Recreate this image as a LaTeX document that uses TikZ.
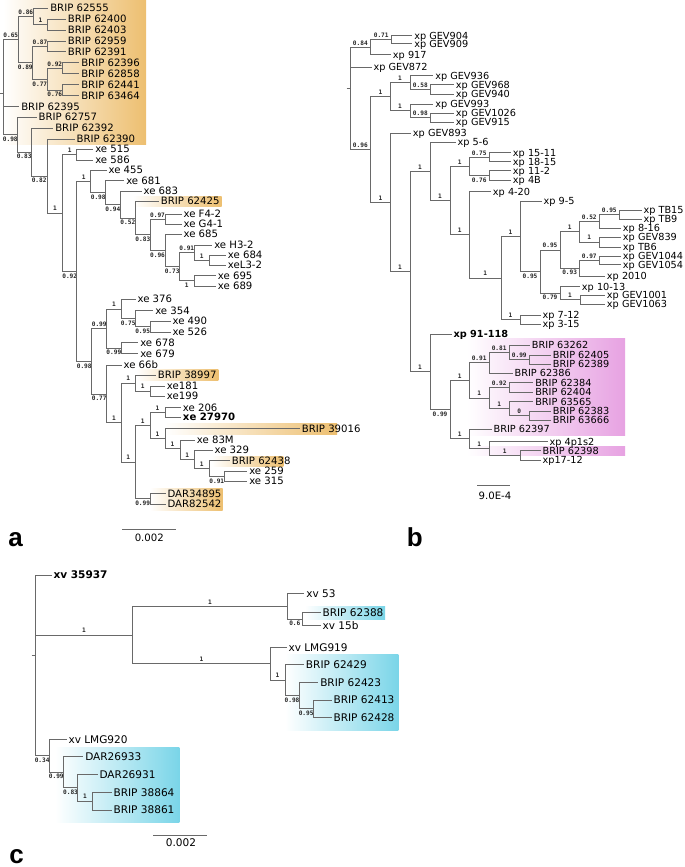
\documentclass[tikz,border=0pt]{standalone}
\usepackage{fontspec}
\setmainfont{DejaVu Sans}
\newfontfamily\supfam{DejaVu Sans Mono}
\newfontfamily\panfam{Liberation Sans}
\definecolor{orA}{RGB}{237,191,112}
\definecolor{piB}{RGB}{231,162,226}
\definecolor{cyC}{RGB}{122,213,232}
\definecolor{lineC}{RGB}{105,105,105}
\tikzset{
 branch/.style={draw=lineC, line width=0.75pt},
 leafA/.style={font=\fontsize{7.6}{8}\selectfont, anchor=west, inner sep=1.2pt, text height=5.5pt, text depth=0pt},
 leafB/.style={leafA, font=\fontsize{7.3}{8}\selectfont, text height=5.3pt},
 leafC/.style={leafA, font=\fontsize{7.9}{9}\selectfont, text height=5.8pt},
 supbase/.style={pos=0.75, inner sep=0pt, font=\supfam\bfseries\fontsize{4.6}{5}\selectfont, text=black!85},
 supA/.style={supbase, yshift=3.3pt},
 supB/.style={supbase, yshift=-3.4pt},
 panlab/.style={font=\panfam\bfseries\fontsize{19.5}{20}\selectfont, anchor=base west, inner sep=0pt},
 scaletxt/.style={font=\fontsize{7.6}{8}\selectfont, inner sep=0pt, text height=5.5pt, text depth=0pt},
}
\begin{document}
\begin{tikzpicture}[x=0.75pt,y=-0.75pt]
\useasboundingbox (0,0) rectangle (685,867);
% ---------------- highlight boxes ----------------
\shade[left color=white,right color=orA] (3,0) rectangle (146,144);
\shade[left color=white,right color=orA] (133,196) rectangle (221.7,206.3);
\shade[left color=white,right color=orA] (136,369.3) rectangle (218.3,380.7);
\shade[left color=white,right color=orA] (165,423.3) rectangle (337,434);
\shade[left color=white,right color=orA] (211.7,456) rectangle (283.3,466);
\shade[left color=white,right color=orA] (150,488.3) rectangle (222.7,510.7);
\shade[left color=white,right color=piB] (466.7,338.3) rectangle (625,435);
\shade[left color=white,right color=piB] (466.7,446) rectangle (625,455.7);
\shade[left color=white,right color=cyC] (305,606.7) rectangle (385,619.3);
\shade[left color=white,right color=cyC] (285,654.3) rectangle (398.3,730);
\shade[left color=white,right color=cyC] (55,747.3) rectangle (179.3,822.3);

% ================= PANEL A =================
\node[leafA] (l1) at (48.4,8.3) {BRIP 62555};
\node[leafA] (l2) at (66.1,19.3) {BRIP 62400};
\node[leafA] (l3) at (66.1,30.3) {BRIP 62403};
\node[leafA] (l4) at (66.1,41.3) {BRIP 62959};
\node[leafA] (l5) at (66.1,52) {BRIP 62391};
\node[leafA] (l6) at (79.4,63) {BRIP 62396};
\node[leafA] (l7) at (79.4,74) {BRIP 62858};
\node[leafA] (l8) at (79.4,84.7) {BRIP 62441};
\node[leafA] (l9) at (79.4,95.7) {BRIP 63464};
\node[leafA] (l10) at (19.4,106.7) {BRIP 62395};
\node[leafA] (l11) at (36.7,117.3) {BRIP 62757};
\node[leafA] (l12) at (53.4,128.3) {BRIP 62392};
\node[leafA] (l13) at (74.7,139) {BRIP 62390};
\node[leafA] (l14) at (93.4,149.3) {xe 515};
\node[leafA] (l15) at (93.4,160.3) {xe 586};
\node[leafA] (l16) at (106.7,170.3) {xe 455};
\node[leafA] (l17) at (124.4,180.7) {xe 681};
\node[leafA] (l18) at (141.7,191) {xe 683};
\node[leafA] (l19) at (159.1,201) {BRIP 62425};
\node[leafA] (l20) at (181.7,214.3) {xe F4-2};
\node[leafA] (l21) at (181.7,224.3) {xe G4-1};
\node[leafA] (l22) at (181.7,234.3) {xe 685};
\node[leafA] (l23) at (212.4,245) {xe H3-2};
\node[leafA] (l24) at (226.1,255.3) {xe 684};
\node[leafA] (l25) at (226.1,265.3) {xeL3-2};
\node[leafA] (l26) at (216.1,275.7) {xe 695};
\node[leafA] (l27) at (216.1,286) {xe 689};
\node[leafA] (l28) at (135.7,299.3) {xe 376};
\node[leafA] (l29) at (153.4,310.7) {xe 354};
\node[leafA] (l30) at (170.7,321.3) {xe 490};
\node[leafA] (l31) at (170.7,332.3) {xe 526};
\node[leafA] (l32) at (138.4,342.7) {xe 678};
\node[leafA] (l33) at (138.4,353.7) {xe 679};
\node[leafA] (l34) at (121.7,365.3) {xe 66b};
\node[leafA] (l35) at (156.1,375) {BRIP 38997};
\node[leafA] (l36) at (165.1,386) {xe181};
\node[leafA] (l37) at (165.1,396) {xe199};
\node[leafA] (l38) at (181.1,407.7) {xe 206};
\node[leafA, font=\fontsize{7.6}{8}\selectfont\bfseries] (l39) at (181.1,417.3) {xe 27970};
\node[leafA] (l40) at (300.1,428.7) {BRIP 39016};
\node[leafA] (l41) at (195.1,440) {xe 83M};
\node[leafA] (l42) at (212.7,450.3) {xe 329};
\node[leafA] (l43) at (230.1,460.7) {BRIP 62438};
\node[leafA] (l44) at (247.4,471.3) {xe 259};
\node[leafA] (l45) at (247.4,481.3) {xe 315};
\node[leafA] (l46) at (165.7,493.7) {DAR34895};
\node[leafA] (l47) at (165.7,504) {DAR82542};

\coordinate (aS) at (0,93.75);
\coordinate (aR) at (3.3,93.75);
\coordinate (a065) at (18.3,39.8);
\coordinate (a086) at (33.3,16.6);
\coordinate (a1a) at (47.7,24.8);
\coordinate (a089) at (32.3,63);
\coordinate (a087) at (47.7,46.7);
\coordinate (a077) at (47.3,79.35);
\coordinate (a092) at (62.3,68.5);
\coordinate (a076) at (62.3,90.2);
\coordinate (a098) at (17.3,134.75);
\coordinate (a083) at (31,152.2);
\coordinate (a082) at (47.3,176.05);
\coordinate (a1b) at (62.7,213.1);
\coordinate (a1c) at (76.7,154.8);
\coordinate (a092b) at (76.7,271.4);
\coordinate (a1d) at (90.7,181.5);
\coordinate (a098c) at (105.7,192.6);
\coordinate (a094) at (120,204.5);
\coordinate (a052) at (135.7,218);
\coordinate (a083b) at (150,234.9);
\coordinate (a097) at (165,219.3);
\coordinate (a096) at (165,250.5);
\coordinate (a073) at (179.3,266.8);
\coordinate (a091) at (194.3,252.7);
\coordinate (a1f) at (209.3,260.3);
\coordinate (a1e) at (194.3,280.8);
\coordinate (a098d) at (91.7,361.3);
\coordinate (a099a) at (106.7,328.6);
\coordinate (a1g) at (121,309);
\coordinate (a075) at (135.3,318.8);
\coordinate (a095) at (150,326.8);
\coordinate (a099b) at (121,348.2);
\coordinate (a077b) at (106.7,394);
\coordinate (a1h) at (121,422.6);
\coordinate (a1i) at (135.3,383);
\coordinate (a1k) at (150,391);
\coordinate (a1j) at (135.3,462.1);
\coordinate (a1n) at (150,425.4);
\coordinate (a1m) at (165,412.5);
\coordinate (a1o) at (165,438.5);
\coordinate (a1p) at (180,448.3);
\coordinate (a1q) at (194.3,459.8);
\coordinate (a1r) at (209.3,468.5);
\coordinate (a091b) at (224.3,476.3);
\coordinate (aDAR) at (150,498.8);

\draw[branch] (aS) -- (aR);
\draw[branch] (aR) |- (a065) node[supA]{0.65};
\draw[branch] (aR) |- (l10.west);
\draw[branch] (aR) |- (a098) node[supB]{0.98};
\draw[branch] (a065) |- (a086) node[supA]{0.86};
\draw[branch] (a065) |- (a089) node[supB]{0.89};
\draw[branch] (a086) |- (l1.west);
\draw[branch] (a086) |- (a1a) node[supA]{1};
\draw[branch] (a1a) |- (l2.west);
\draw[branch] (a1a) |- (l3.west);
\draw[branch] (a089) |- (a087) node[supA]{0.87};
\draw[branch] (a089) |- (a077) node[supB]{0.77};
\draw[branch] (a087) |- (l4.west);
\draw[branch] (a087) |- (l5.west);
\draw[branch] (a077) |- (a092) node[supA]{0.92};
\draw[branch] (a077) |- (a076) node[supB]{0.76};
\draw[branch] (a092) |- (l6.west);
\draw[branch] (a092) |- (l7.west);
\draw[branch] (a076) |- (l8.west);
\draw[branch] (a076) |- (l9.west);
\draw[branch] (a098) |- (l11.west);
\draw[branch] (a098) |- (a083) node[supB]{0.83};
\draw[branch] (a083) |- (l12.west);
\draw[branch] (a083) |- (a082) node[supB]{0.82};
\draw[branch] (a082) |- (l13.west);
\draw[branch] (a082) |- (a1b) node[supA]{1};
\draw[branch] (a1b) |- (a1c) node[supA]{1};
\draw[branch] (a1b) |- (a092b) node[supB]{0.92};
\draw[branch] (a1c) |- (l14.west);
\draw[branch] (a1c) |- (l15.west);
\draw[branch] (a092b) |- (a1d) node[supA]{1};
\draw[branch] (a092b) |- (a098d) node[supB]{0.98};
\draw[branch] (a1d) |- (l16.west);
\draw[branch] (a1d) |- (a098c) node[supB]{0.98};
\draw[branch] (a098c) |- (l17.west);
\draw[branch] (a098c) |- (a094) node[supB]{0.94};
\draw[branch] (a094) |- (l18.west);
\draw[branch] (a094) |- (a052) node[supB]{0.52};
\draw[branch] (a052) |- (l19.west);
\draw[branch] (a052) |- (a083b) node[supB]{0.83};
\draw[branch] (a083b) |- (a097) node[supA]{0.97};
\draw[branch] (a083b) |- (a096) node[supB]{0.96};
\draw[branch] (a097) |- (l20.west);
\draw[branch] (a097) |- (l21.west);
\draw[branch] (a096) |- (l22.west);
\draw[branch] (a096) |- (a073) node[supB]{0.73};
\draw[branch] (a073) |- (a091) node[supA]{0.91};
\draw[branch] (a073) |- (a1e) node[supB]{1};
\draw[branch] (a091) |- (l23.west);
\draw[branch] (a091) |- (a1f) node[supA]{1};
\draw[branch] (a1f) |- (l24.west);
\draw[branch] (a1f) |- (l25.west);
\draw[branch] (a1e) |- (l26.west);
\draw[branch] (a1e) |- (l27.west);
\draw[branch] (a098d) |- (a099a) node[supA]{0.99};
\draw[branch] (a098d) |- (a077b) node[supB]{0.77};
\draw[branch] (a099a) |- (a1g) node[supA]{1};
\draw[branch] (a099a) |- (a099b) node[supB]{0.99};
\draw[branch] (a1g) |- (l28.west);
\draw[branch] (a1g) |- (a075) node[supB]{0.75};
\draw[branch] (a075) |- (l29.west);
\draw[branch] (a075) |- (a095) node[supB]{0.95};
\draw[branch] (a095) |- (l30.west);
\draw[branch] (a095) |- (l31.west);
\draw[branch] (a099b) |- (l32.west);
\draw[branch] (a099b) |- (l33.west);
\draw[branch] (a077b) |- (l34.west);
\draw[branch] (a077b) |- (a1h) node[supA]{1};
\draw[branch] (a1h) |- (a1i) node[supA]{1};
\draw[branch] (a1h) |- (a1j) node[supA]{1};
\draw[branch] (a1i) |- (l35.west);
\draw[branch] (a1i) |- (a1k) node[supA]{1};
\draw[branch] (a1k) |- (l36.west);
\draw[branch] (a1k) |- (l37.west);
\draw[branch] (a1j) |- (a1n) node[supA]{1};
\draw[branch] (a1j) |- (aDAR) node[supB]{0.99};
\draw[branch] (a1n) |- (a1m) node[supA]{1};
\draw[branch] (a1n) |- (a1o) node[supA]{1};
\draw[branch] (a1m) |- (l38.west);
\draw[branch] (a1m) |- (l39.west);
\draw[branch] (a1o) |- (l40.west);
\draw[branch] (a1o) |- (a1p) node[supA]{1};
\draw[branch] (a1p) |- (l41.west);
\draw[branch] (a1p) |- (a1q) node[supA]{1};
\draw[branch] (a1q) |- (l42.west);
\draw[branch] (a1q) |- (a1r) node[supA]{1};
\draw[branch] (a1r) |- (l43.west);
\draw[branch] (a1r) |- (a091b) node[supB]{0.91};
\draw[branch] (a091b) |- (l44.west);
\draw[branch] (a091b) |- (l45.west);
\draw[branch] (aDAR) |- (l46.west);
\draw[branch] (aDAR) |- (l47.west);

\coordinate (sa1) at (122.3,529.3);
\coordinate (sa2) at (176,529.3);
\draw[branch] (sa1) -- (sa2);
\node[scaletxt] (sat) at (149.3,537.6) {0.002};
\node[panlab] (pa) at (8,546.7) {a};

% ================= PANEL B =================
\node[leafB] (m1) at (412.4,35.7) {xp GEV904};
\node[leafB] (m2) at (412.4,44) {xp GEV909};
\node[leafB] (m3) at (391.1,55) {xp 917};
\node[leafB] (m4) at (371.7,67.3) {xp GEV872};
\node[leafB] (m5) at (433.4,76) {xp GEV936};
\node[leafB] (m6) at (454.1,85) {xp GEV968};
\node[leafB] (m7) at (454.1,94.3) {xp GEV940};
\node[leafB] (m8) at (433.4,104) {xp GEV993};
\node[leafB] (m9) at (454.1,113.3) {xp GEV1026};
\node[leafB] (m10) at (454.1,122.3) {xp GEV915};
\node[leafB] (m11) at (411.1,133.3) {xp GEV893};
\node[leafB] (m12) at (455.7,142.3) {xp 5-6};
\node[leafB] (m13) at (511.1,152.7) {xp 15-11};
\node[leafB] (m14) at (511.1,161.7) {xp 18-15};
\node[leafB] (m15) at (511.1,170.7) {xp 11-2};
\node[leafB] (m16) at (511.1,180) {xp 4B};
\node[leafB] (m17) at (491.1,191.7) {xp 4-20};
\node[leafB] (m18) at (541.7,201) {xp 9-5};
\node[leafB] (m19) at (641.7,210) {xp TB15};
\node[leafB] (m20) at (641.7,219) {xp TB9};
\node[leafB] (m21) at (621.1,228.3) {xp 8-16};
\node[leafB] (m22) at (621.1,237.3) {xp GEV839};
\node[leafB] (m23) at (621.1,247) {xp TB6};
\node[leafB] (m24) at (621.1,256) {xp GEV1044};
\node[leafB] (m25) at (621.1,264.7) {xp GEV1054};
\node[leafB] (m26) at (605.1,276) {xp 2010};
\node[leafB] (m27) at (580.1,286.7) {xp 10-13};
\node[leafB] (m28) at (605.1,295) {xp GEV1001};
\node[leafB] (m29) at (605.1,304) {xp GEV1063};
\node[leafB] (m30) at (540.7,315) {xp 7-12};
\node[leafB] (m31) at (540.7,324.3) {xp 3-15};
\node[leafB, font=\fontsize{7.3}{8}\selectfont\bfseries] (m32) at (451.7,334) {xp 91-118};
\node[leafB] (m33) at (530.1,345.3) {BRIP 63262};
\node[leafB] (m34) at (551.1,355) {BRIP 62405};
\node[leafB] (m35) at (551.1,364) {BRIP 62389};
\node[leafB] (m36) at (512.7,373.3) {BRIP 62386};
\node[leafB] (m37) at (533.4,382.7) {BRIP 62384};
\node[leafB] (m38) at (533.4,392.3) {BRIP 62404};
\node[leafB] (m39) at (533.4,401.7) {BRIP 63565};
\node[leafB] (m40) at (551.1,411) {BRIP 62383};
\node[leafB] (m41) at (551.1,420.3) {BRIP 63666};
\node[leafB] (m42) at (491.7,429.3) {BRIP 62397};
\node[leafB] (m43) at (547.7,441.7) {xp 4p1s2};
\node[leafB] (m44) at (540.7,450.7) {BRIP 62398};
\node[leafB] (m45) at (540.7,460) {xp17-12};

\coordinate (bS) at (346.5,88.1);
\coordinate (bR) at (350,88.1);
\coordinate (b084) at (370.7,47.4);
\coordinate (b071) at (391.7,39.85);
\coordinate (b096) at (370.7,149.65);
\coordinate (b1) at (390,96.85);
\coordinate (b1s) at (410,82.85);
\coordinate (b058) at (430.7,89.65);
\coordinate (b1t) at (410,110.9);
\coordinate (b098) at (430.7,117.8);
\coordinate (b1u) at (390,202.45);
\coordinate (b1v) at (410,271.6);
\coordinate (b1w) at (430,171.4);
\coordinate (b1y) at (450,200.55);
\coordinate (b1z) at (469.3,166.3);
\coordinate (b075) at (489,157.2);
\coordinate (b076) at (489,175.35);
\coordinate (b1aa) at (469.3,234.8);
\coordinate (b1bb) at (501,278);
\coordinate (b1cc) at (520,236.3);
\coordinate (b095c) at (540,271.55);
\coordinate (b095d) at (560,250);
\coordinate (b1ee) at (579.3,231.8);
\coordinate (b052) at (599.3,221.4);
\coordinate (b095e) at (619.3,214.5);
\coordinate (b1ff) at (599.3,242.15);
\coordinate (b093) at (579.3,268.2);
\coordinate (b097) at (599.3,260.35);
\coordinate (b079) at (560,293.1);
\coordinate (b1gg) at (580,299.5);
\coordinate (b1dd) at (520,319.65);
\coordinate (b1x) at (430,371.85);
\coordinate (b099c) at (450,409.7);
\coordinate (b1hh) at (469.3,380.5);
\coordinate (b091c) at (489,362.9);
\coordinate (b081) at (509.3,352.4);
\coordinate (b099d) at (529.3,359.5);
\coordinate (b1jj) at (489,398.1);
\coordinate (b092b) at (509.3,387.5);
\coordinate (b1kk) at (509.3,408.7);
\coordinate (b0) at (529.3,415.65);
\coordinate (b1ii) at (469.3,438.9);
\coordinate (b1ll) at (489.3,448.5);
\coordinate (b1mm) at (520,455.35);

\draw[branch] (bS) -- (bR);
\draw[branch] (bR) |- (b084) node[supA]{0.84};
\draw[branch] (bR) |- (m4.west);
\draw[branch] (bR) |- (b096) node[supA]{0.96};
\draw[branch] (b084) |- (b071) node[supA]{0.71};
\draw[branch] (b084) |- (m3.west);
\draw[branch] (b071) |- (m1.west);
\draw[branch] (b071) |- (m2.west);
\draw[branch] (b096) |- (b1) node[supA]{1};
\draw[branch] (b096) |- (b1u) node[supA]{1};
\draw[branch] (b1) |- (b1s) node[supA]{1};
\draw[branch] (b1) |- (b1t) node[supA]{1};
\draw[branch] (b1s) |- (m5.west);
\draw[branch] (b1s) |- (b058) node[supA]{0.58};
\draw[branch] (b058) |- (m6.west);
\draw[branch] (b058) |- (m7.west);
\draw[branch] (b1t) |- (m8.west);
\draw[branch] (b1t) |- (b098) node[supA]{0.98};
\draw[branch] (b098) |- (m9.west);
\draw[branch] (b098) |- (m10.west);
\draw[branch] (b1u) |- (m11.west);
\draw[branch] (b1u) |- (b1v) node[supA]{1};
\draw[branch] (b1v) |- (b1w) node[supA]{1};
\draw[branch] (b1v) |- (b1x) node[supA]{1};
\draw[branch] (b1w) |- (m12.west);
\draw[branch] (b1w) |- (b1y) node[supA]{1};
\draw[branch] (b1y) |- (b1z) node[supA]{1};
\draw[branch] (b1y) |- (b1aa) node[supA]{1};
\draw[branch] (b1z) |- (b075) node[supA]{0.75};
\draw[branch] (b1z) |- (b076) node[supB]{0.76};
\draw[branch] (b075) |- (m13.west);
\draw[branch] (b075) |- (m14.west);
\draw[branch] (b076) |- (m15.west);
\draw[branch] (b076) |- (m16.west);
\draw[branch] (b1aa) |- (m17.west);
\draw[branch] (b1aa) |- (b1bb) node[supA]{1};
\draw[branch] (b1bb) |- (b1cc) node[supA]{1};
\draw[branch] (b1bb) |- (b1dd) node[supA]{1};
\draw[branch] (b1cc) |- (m18.west);
\draw[branch] (b1cc) |- (b095c) node[supB]{0.95};
\draw[branch] (b095c) |- (b095d) node[supA]{0.95};
\draw[branch] (b095c) |- (b079) node[supB]{0.79};
\draw[branch] (b095d) |- (b1ee) node[supA]{1};
\draw[branch] (b095d) |- (b093) node[supB]{0.93};
\draw[branch] (b1ee) |- (b052) node[supA]{0.52};
\draw[branch] (b1ee) |- (b1ff) node[supA]{1};
\draw[branch] (b052) |- (b095e) node[supA]{0.95};
\draw[branch] (b052) |- (m21.west);
\draw[branch] (b095e) |- (m19.west);
\draw[branch] (b095e) |- (m20.west);
\draw[branch] (b1ff) |- (m22.west);
\draw[branch] (b1ff) |- (m23.west);
\draw[branch] (b093) |- (b097) node[supA]{0.97};
\draw[branch] (b093) |- (m26.west);
\draw[branch] (b097) |- (m24.west);
\draw[branch] (b097) |- (m25.west);
\draw[branch] (b079) |- (m27.west);
\draw[branch] (b079) |- (b1gg) node[supA]{1};
\draw[branch] (b1gg) |- (m28.west);
\draw[branch] (b1gg) |- (m29.west);
\draw[branch] (b1dd) |- (m30.west);
\draw[branch] (b1dd) |- (m31.west);
\draw[branch] (b1x) |- (m32.west);
\draw[branch] (b1x) |- (b099c) node[supB]{0.99};
\draw[branch] (b099c) |- (b1hh) node[supA]{1};
\draw[branch] (b099c) |- (b1ii) node[supA]{1};
\draw[branch] (b1hh) |- (b091c) node[supA]{0.91};
\draw[branch] (b1hh) |- (b1jj) node[supA]{1};
\draw[branch] (b091c) |- (b081) node[supA]{0.81};
\draw[branch] (b091c) |- (m36.west);
\draw[branch] (b081) |- (m33.west);
\draw[branch] (b081) |- (b099d) node[supA]{0.99};
\draw[branch] (b099d) |- (m34.west);
\draw[branch] (b099d) |- (m35.west);
\draw[branch] (b1jj) |- (b092b) node[supA]{0.92};
\draw[branch] (b1jj) |- (b1kk) node[supA]{1};
\draw[branch] (b092b) |- (m37.west);
\draw[branch] (b092b) |- (m38.west);
\draw[branch] (b1kk) |- (m39.west);
\draw[branch] (b1kk) |- (b0) node[supA]{0};
\draw[branch] (b0) |- (m40.west);
\draw[branch] (b0) |- (m41.west);
\draw[branch] (b1ii) |- (m42.west);
\draw[branch] (b1ii) |- (b1ll) node[supA]{1};
\draw[branch] (b1ll) |- (m43.west);
\draw[branch] (b1ll) |- (b1mm) node[supA]{1};
\draw[branch] (b1mm) |- (m44.west);
\draw[branch] (b1mm) |- (m45.west);

\coordinate (sb1) at (477.3,485.7);
\coordinate (sb2) at (510,485.7);
\draw[branch] (sb1) -- (sb2);
\node[scaletxt] (sbt) at (495,495.7) {9.0E-4};
\node[panlab] (pb) at (406.5,546.7) {b};

% ================= PANEL C =================
\node[leafC, font=\fontsize{7.9}{9}\selectfont\bfseries] (n1) at (51.7,575) {xv 35937};
\node[leafC] (n2) at (304.4,593.3) {xv 53};
\node[leafC] (n3) at (320.7,612.3) {BRIP 62388};
\node[leafC] (n4) at (320.7,625.7) {xv 15b};
\node[leafC] (n5) at (286.7,647.3) {xv LMG919};
\node[leafC] (n6) at (304.1,664.3) {BRIP 62429};
\node[leafC] (n7) at (318.4,682.3) {BRIP 62423};
\node[leafC] (n8) at (331.7,700) {BRIP 62413};
\node[leafC] (n9) at (331.7,717.7) {BRIP 62428};
\node[leafC] (n10) at (66.7,739.3) {xv LMG920};
\node[leafC] (n11) at (83.4,756.7) {DAR26933};
\node[leafC] (n12) at (97.7,774.3) {DAR26931};
\node[leafC] (n13) at (111.7,792.3) {BRIP 38864};
\node[leafC] (n14) at (111.7,810) {BRIP 38861};

\coordinate (cS) at (31.7,655.3);
\coordinate (cR) at (35,655.3);
\coordinate (c1a) at (132.7,635);
\coordinate (c1b) at (287.3,606.2);
\coordinate (c06) at (302.3,619);
\coordinate (c1c) at (270,663.7);
\coordinate (c1d) at (285,680);
\coordinate (c098) at (299,695.6);
\coordinate (c095) at (313.3,708.85);
\coordinate (c034) at (49.3,755.8);
\coordinate (c099) at (63.3,772.2);
\coordinate (c083) at (77.7,787.7);
\coordinate (c1e) at (92.3,801.15);

\draw[branch] (cS) -- (cR);
\draw[branch] (cR) |- (n1.west);
\draw[branch] (cR) |- (c1a) node[supA]{1};
\draw[branch] (cR) |- (c034) node[supB]{0.34};
\draw[branch] (c1a) |- (c1b) node[supA]{1};
\draw[branch] (c1a) |- (c1c) node[supA]{1};
\draw[branch] (c1b) |- (n2.west);
\draw[branch] (c1b) |- (c06) node[supB]{0.6};
\draw[branch] (c06) |- (n3.west);
\draw[branch] (c06) |- (n4.west);
\draw[branch] (c1c) |- (n5.west);
\draw[branch] (c1c) |- (c1d) node[supA]{1};
\draw[branch] (c1d) |- (n6.west);
\draw[branch] (c1d) |- (c098) node[supB]{0.98};
\draw[branch] (c098) |- (n7.west);
\draw[branch] (c098) |- (c095) node[supB]{0.95};
\draw[branch] (c095) |- (n8.west);
\draw[branch] (c095) |- (n9.west);
\draw[branch] (c034) |- (n10.west);
\draw[branch] (c034) |- (c099) node[supB]{0.99};
\draw[branch] (c099) |- (n11.west);
\draw[branch] (c099) |- (c083) node[supB]{0.83};
\draw[branch] (c083) |- (n12.west);
\draw[branch] (c083) |- (c1e) node[supA]{1};
\draw[branch] (c1e) |- (n13.west);
\draw[branch] (c1e) |- (n14.west);

\coordinate (sc1) at (153.3,835);
\coordinate (sc2) at (206.7,835);
\draw[branch] (sc1) -- (sc2);
\node[scaletxt, font=\fontsize{7.9}{9}\selectfont] (sct) at (181,842.7) {0.002};
\node[panlab] (pc) at (9,863.5) {c};
\end{tikzpicture}
\end{document}
